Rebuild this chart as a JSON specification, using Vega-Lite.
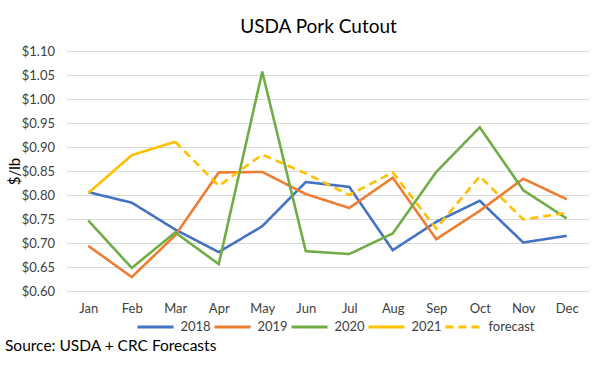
{
  "$schema": "https://vega.github.io/schema/vega-lite/v6.json",
  "width": 522,
  "height": 240,
  "autosize": {"type": "none"},
  "padding": {"left": 66.5, "top": 51, "right": 11.5, "bottom": 77},
  "background": "white",
  "title": {
    "text": "USDA Pork Cutout",
    "fontSize": 19,
    "font": "Lato",
    "fontWeight": "normal",
    "color": "#000000",
    "anchor": "middle",
    "dx": -9,
    "offset": 8
  },
  "config": {
    "font": "Lato",
    "view": {"stroke": null},
    "axis": {"labelColor": "#404040", "labelFont": "Lato"}
  },
  "data": {
    "values": [
      {"month": "Jan", "series": "2018", "value": 0.806},
      {"month": "Feb", "series": "2018", "value": 0.784},
      {"month": "Mar", "series": "2018", "value": 0.728},
      {"month": "Apr", "series": "2018", "value": 0.681},
      {"month": "May", "series": "2018", "value": 0.735},
      {"month": "Jun", "series": "2018", "value": 0.827},
      {"month": "Jul", "series": "2018", "value": 0.817},
      {"month": "Aug", "series": "2018", "value": 0.685},
      {"month": "Sep", "series": "2018", "value": 0.744},
      {"month": "Oct", "series": "2018", "value": 0.788},
      {"month": "Nov", "series": "2018", "value": 0.701},
      {"month": "Dec", "series": "2018", "value": 0.715},
      {"month": "Jan", "series": "2019", "value": 0.694},
      {"month": "Feb", "series": "2019", "value": 0.629},
      {"month": "Mar", "series": "2019", "value": 0.716},
      {"month": "Apr", "series": "2019", "value": 0.847},
      {"month": "May", "series": "2019", "value": 0.848},
      {"month": "Jun", "series": "2019", "value": 0.802},
      {"month": "Jul", "series": "2019", "value": 0.773},
      {"month": "Aug", "series": "2019", "value": 0.836},
      {"month": "Sep", "series": "2019", "value": 0.708},
      {"month": "Oct", "series": "2019", "value": 0.767},
      {"month": "Nov", "series": "2019", "value": 0.834},
      {"month": "Dec", "series": "2019", "value": 0.791},
      {"month": "Jan", "series": "2020", "value": 0.747},
      {"month": "Feb", "series": "2020", "value": 0.648},
      {"month": "Mar", "series": "2020", "value": 0.722},
      {"month": "Apr", "series": "2020", "value": 0.656},
      {"month": "May", "series": "2020", "value": 1.057},
      {"month": "Jun", "series": "2020", "value": 0.683},
      {"month": "Jul", "series": "2020", "value": 0.677},
      {"month": "Aug", "series": "2020", "value": 0.720},
      {"month": "Sep", "series": "2020", "value": 0.848},
      {"month": "Oct", "series": "2020", "value": 0.941},
      {"month": "Nov", "series": "2020", "value": 0.810},
      {"month": "Dec", "series": "2020", "value": 0.751},
      {"month": "Jan", "series": "2021", "value": 0.804},
      {"month": "Feb", "series": "2021", "value": 0.883},
      {"month": "Mar", "series": "2021", "value": 0.911},
      {"month": "Mar", "series": "forecast", "value": 0.911},
      {"month": "Apr", "series": "forecast", "value": 0.819},
      {"month": "May", "series": "forecast", "value": 0.884},
      {"month": "Jun", "series": "forecast", "value": 0.845},
      {"month": "Jul", "series": "forecast", "value": 0.800},
      {"month": "Aug", "series": "forecast", "value": 0.847},
      {"month": "Sep", "series": "forecast", "value": 0.730},
      {"month": "Oct", "series": "forecast", "value": 0.839},
      {"month": "Nov", "series": "forecast", "value": 0.749},
      {"month": "Dec", "series": "forecast", "value": 0.763}
    ]
  },
  "mark": {"type": "line", "strokeWidth": 2.6},
  "encoding": {
    "x": {
      "field": "month",
      "type": "ordinal",
      "sort": ["Jan","Feb","Mar","Apr","May","Jun","Jul","Aug","Sep","Oct","Nov","Dec"],
      "scale": {"type": "point", "padding": 0.5},
      "axis": {
        "title": "Source: USDA + CRC Forecasts",
        "titleX": -62,
        "titleY": 54,
        "titleAlign": "left",
        "titleAnchor": null,
        "titleBaseline": "middle",
        "titleFontSize": 15.5,
        "titleFontWeight": "normal",
        "titleColor": "#000000",
        "titleFont": "Lato",
        "labelAngle": 0,
        "labelFontSize": 13,
        "labelPadding": 11,
        "ticks": false,
        "domain": false,
        "grid": false
      }
    },
    "y": {
      "field": "value",
      "type": "quantitative",
      "scale": {"domain": [0.6, 1.1], "nice": false, "zero": false},
      "axis": {
        "title": "$/lb",
        "titleFontSize": 15,
        "titleFontWeight": "normal",
        "titleColor": "#000000",
        "titleX": -52,
        "titleY": 120,
        "titleAlign": "center",
        "titleBaseline": "middle",
        "titleAngle": -90,
        "format": "$.2f",
        "values": [0.6,0.65,0.7,0.75,0.8,0.85,0.9,0.95,1.0,1.05,1.1],
        "labelFontSize": 13,
        "labelPadding": 12,
        "ticks": false,
        "domain": false,
        "gridColor": "#d9d9d9",
        "gridWidth": 1
      }
    },
    "color": {
      "field": "series",
      "type": "nominal",
      "scale": {
        "domain": ["2018","2019","2020","2021","forecast"],
        "range": ["#4472C4","#ED7D31","#70AD47","#FFC000","#FFC000"]
      },
      "legend": {
        "title": null,
        "orient": "none",
        "direction": "horizontal",
        "columns": 5,
        "gridAlign": "none",
        "legendX": 69,
        "legendY": 256,
        "symbolType": "stroke",
        "symbolSize": 1300,
        "symbolStrokeWidth": 3,
        "labelFontSize": 13,
        "labelColor": "#404040",
        "labelOffset": 5,
        "columnPadding": -4
      }
    },
    "strokeDash": {
      "field": "series",
      "type": "nominal",
      "scale": {
        "domain": ["2018","2019","2020","2021","forecast"],
        "range": [[1,0],[1,0],[1,0],[1,0],[8,5]]
      },
      "legend": {
        "title": null,
        "orient": "none",
        "direction": "horizontal",
        "columns": 5,
        "gridAlign": "none",
        "legendX": 69,
        "legendY": 256,
        "symbolType": "stroke",
        "symbolSize": 1300,
        "symbolStrokeWidth": 3,
        "labelFontSize": 13,
        "labelColor": "#404040",
        "labelOffset": 5,
        "columnPadding": -4
      }
    }
  }
}
